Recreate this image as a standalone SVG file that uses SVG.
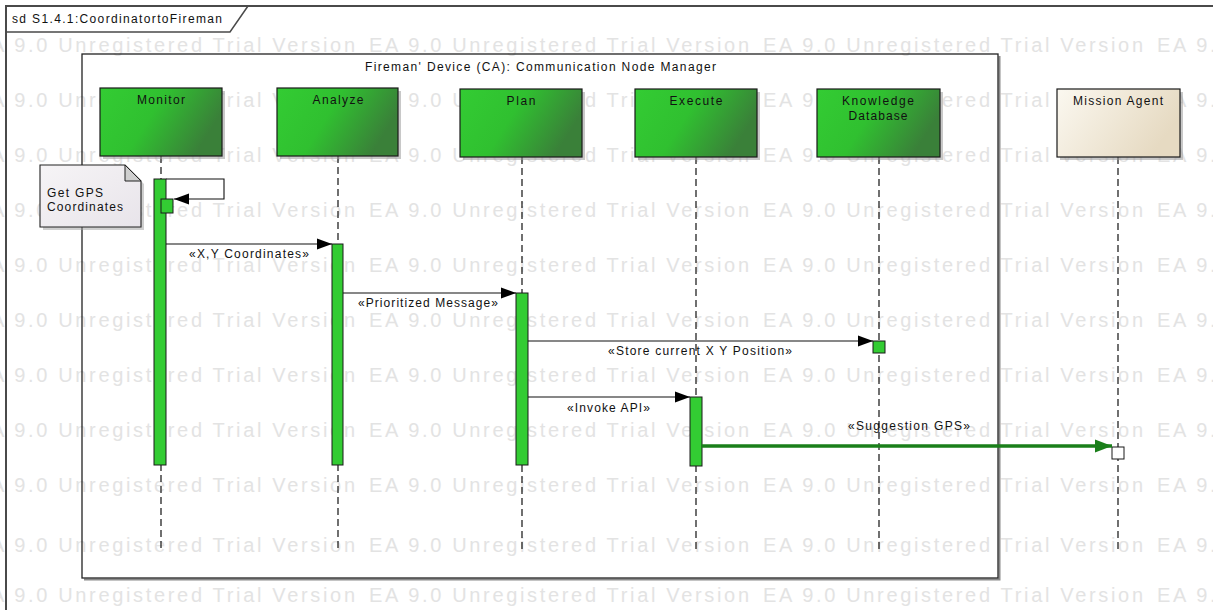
<svg xmlns="http://www.w3.org/2000/svg" width="1213" height="610" viewBox="0 0 1213 610">
<style>
.wm{font-family:"Liberation Sans Narrow","Liberation Sans",Arial,sans-serif;font-size:20px;fill:#e3e3e3}
.lbl{font-family:"Liberation Sans",Arial,sans-serif;font-size:12px;fill:#111}
.box{stroke:#1a1a1a;stroke-width:1.2}
.shadow{fill:#9a9a9a;opacity:0.55}
.life{stroke:#111;stroke-width:1.2;stroke-dasharray:7 4;fill:none}
.bar{fill:#33cc33;stroke:#1a1a1a;stroke-width:1}
.msg{stroke:#111;stroke-width:1.1;fill:none}
</style>
<defs>
<linearGradient id="gGreen" x1="0" y1="0" x2="1" y2="0.35">
<stop offset="0" stop-color="#33cc33"/>
<stop offset="0.5" stop-color="#30c030"/>
<stop offset="1" stop-color="#3a8039"/>
</linearGradient>
<linearGradient id="gBeige" x1="0" y1="0" x2="1" y2="0.4">
<stop offset="0" stop-color="#fbf8f0"/>
<stop offset="1" stop-color="#e6dac2"/>
</linearGradient>
<linearGradient id="gNote" x1="0" y1="0" x2="1" y2="1">
<stop offset="0" stop-color="#f6f4f6"/>
<stop offset="1" stop-color="#e8e4ea"/>
</linearGradient>
<marker id="arrBlack" markerUnits="userSpaceOnUse" markerWidth="16" markerHeight="12" refX="15" refY="6" orient="auto">
<path d="M0,0.5 L15,6 L0,11.5 z" fill="#000"/>
</marker>
<marker id="arrGreen" markerUnits="userSpaceOnUse" markerWidth="18" markerHeight="14" refX="17" refY="7" orient="auto">
<path d="M0,0.5 L17,7 L0,13.5 z" fill="#1a7f1a"/>
</marker>
<text id="wmt" class="wm" textLength="380" lengthAdjust="spacing">EA 9.0 Unregistered Trial Version</text>
</defs>

<rect width="1213" height="610" fill="#ffffff"/>

<g id="watermark">
<use href="#wmt" x="-25" y="52"/><use href="#wmt" x="369" y="52"/><use href="#wmt" x="763" y="52"/><use href="#wmt" x="1157" y="52"/>
<use href="#wmt" x="-25" y="107"/><use href="#wmt" x="369" y="107"/><use href="#wmt" x="763" y="107"/><use href="#wmt" x="1157" y="107"/>
<use href="#wmt" x="-25" y="162"/><use href="#wmt" x="369" y="162"/><use href="#wmt" x="763" y="162"/><use href="#wmt" x="1157" y="162"/>
<use href="#wmt" x="-25" y="217"/><use href="#wmt" x="369" y="217"/><use href="#wmt" x="763" y="217"/><use href="#wmt" x="1157" y="217"/>
<use href="#wmt" x="-25" y="272"/><use href="#wmt" x="369" y="272"/><use href="#wmt" x="763" y="272"/><use href="#wmt" x="1157" y="272"/>
<use href="#wmt" x="-25" y="327"/><use href="#wmt" x="369" y="327"/><use href="#wmt" x="763" y="327"/><use href="#wmt" x="1157" y="327"/>
<use href="#wmt" x="-25" y="382"/><use href="#wmt" x="369" y="382"/><use href="#wmt" x="763" y="382"/><use href="#wmt" x="1157" y="382"/>
<use href="#wmt" x="-25" y="437"/><use href="#wmt" x="369" y="437"/><use href="#wmt" x="763" y="437"/><use href="#wmt" x="1157" y="437"/>
<use href="#wmt" x="-25" y="492"/><use href="#wmt" x="369" y="492"/><use href="#wmt" x="763" y="492"/><use href="#wmt" x="1157" y="492"/>
<use href="#wmt" x="-25" y="552"/><use href="#wmt" x="369" y="552"/><use href="#wmt" x="763" y="552"/><use href="#wmt" x="1157" y="552"/>
<use href="#wmt" x="-25" y="602"/><use href="#wmt" x="369" y="602"/><use href="#wmt" x="763" y="602"/><use href="#wmt" x="1157" y="602"/>
</g>

<g id="frame">
<rect x="6" y="6" width="1220" height="620" fill="none" stroke="#4a4a4a" stroke-width="2"/>
<path d="M6,32 L230,32 L248,6" fill="none" stroke="#4a4a4a" stroke-width="1.5"/>
<text class="lbl" x="12" y="23" font-size="12.5" textLength="210">sd S1.4.1:CoordinatortoFireman</text>
</g>

<g id="fireman-device">
<path d="M84,579.5 L999.5,579.5 L999.5,56" fill="none" stroke="#8a8a8a" stroke-width="2"/>
<rect x="82" y="54" width="916" height="524" fill="none" stroke="#222" stroke-width="1.3"/>
<text class="lbl" x="365" y="71" textLength="351">Fireman' Device (CA): Communication Node Manager</text>
</g>

<g id="lifelines">
<line class="life" x1="161" y1="156" x2="161" y2="549"/>
<line class="life" x1="338" y1="156" x2="338" y2="549"/>
<line class="life" x1="522" y1="157" x2="522" y2="549"/>
<line class="life" x1="696" y1="157" x2="696" y2="549"/>
<line class="life" x1="879" y1="157" x2="879" y2="549"/>
<line class="life" x1="1118" y1="157" x2="1118" y2="549"/>
</g>

<g id="monitor">
<rect class="shadow" x="103" y="91" width="122" height="68"/>
<rect class="box" x="100" y="88" width="122" height="68" fill="url(#gGreen)"/>
<text class="lbl" x="161" y="104" text-anchor="middle" fill="#222" textLength="48">Monitor</text>
</g>
<g id="analyze">
<rect class="shadow" x="280" y="91" width="121" height="68"/>
<rect class="box" x="277" y="88" width="121" height="68" fill="url(#gGreen)"/>
<text class="lbl" x="338" y="104" text-anchor="middle" textLength="51">Analyze</text>
</g>
<g id="plan">
<rect class="shadow" x="463" y="92" width="122" height="68"/>
<rect class="box" x="460" y="89" width="122" height="68" fill="url(#gGreen)"/>
<text class="lbl" x="521" y="105" text-anchor="middle" textLength="29">Plan</text>
</g>
<g id="execute">
<rect class="shadow" x="638" y="92" width="122" height="68"/>
<rect class="box" x="635" y="89" width="122" height="68" fill="url(#gGreen)"/>
<text class="lbl" x="696" y="105" text-anchor="middle" textLength="53">Execute</text>
</g>
<g id="knowledge-database">
<rect class="shadow" x="820" y="92" width="123" height="68"/>
<rect class="box" x="817" y="89" width="123" height="68" fill="url(#gGreen)"/>
<text class="lbl" x="878" y="105" text-anchor="middle" textLength="72">Knowledge</text>
<text class="lbl" x="878" y="120" text-anchor="middle" textLength="59">Database</text>
</g>
<g id="mission-agent">
<rect class="shadow" x="1060" y="92" width="123" height="68"/>
<rect class="box" x="1057" y="89" width="123" height="68" fill="url(#gBeige)"/>
<text class="lbl" x="1118" y="105" text-anchor="middle" textLength="90">Mission Agent</text>
</g>

<g id="note-get-gps">
<path d="M43,168 L128,168 L144,184 L144,230 L43,230 z" fill="#a0a0a0" opacity="0.5"/>
<path d="M40,165 L125,165 L141,181 L141,227 L40,227 z" fill="url(#gNote)" stroke="#222" stroke-width="1.1"/>
<path d="M125,165 L125,181 L141,181 z" fill="#cfcfcf" stroke="#222" stroke-width="1"/>
<text class="lbl" x="47" y="197" textLength="56">Get GPS</text>
<text class="lbl" x="47" y="211" textLength="76">Coordinates</text>
</g>

<g id="activations">
<rect class="bar" x="154" y="179" width="12" height="286"/>
<rect class="bar" x="161" y="199" width="12" height="14"/>
<rect class="bar" x="332" y="244" width="11" height="221"/>
<rect class="bar" x="516" y="293" width="12" height="172"/>
<rect class="bar" x="690" y="397" width="12" height="69"/>
<rect class="bar" x="873" y="341" width="12" height="12"/>
<rect x="1112" y="447" width="12" height="12" fill="#fff" stroke="#1a1a1a" stroke-width="1"/>
</g>

<g id="connectors">
<polyline class="msg" points="166,179 224,179 224,199 174,199" marker-end="url(#arrBlack)"/>
<line class="msg" x1="166" y1="244" x2="332" y2="244" marker-end="url(#arrBlack)"/>
<text class="lbl" x="189" y="258" textLength="120">«X,Y Coordinates»</text>
<line class="msg" x1="343" y1="293" x2="516" y2="293" marker-end="url(#arrBlack)"/>
<text class="lbl" x="358" y="307" textLength="140">«Prioritized Message»</text>
<line class="msg" x1="528" y1="341" x2="873" y2="341" marker-end="url(#arrBlack)"/>
<text class="lbl" x="608" y="355" textLength="184">«Store current X Y Position»</text>
<line class="msg" x1="528" y1="397" x2="690" y2="397" marker-end="url(#arrBlack)"/>
<text class="lbl" x="567" y="412" textLength="83">«Invoke API»</text>
<line x1="702" y1="446" x2="1112" y2="446" stroke="#1a7f1a" stroke-width="3.5" marker-end="url(#arrGreen)"/>
<text class="lbl" x="848" y="430" textLength="122">«Suggestion GPS»</text>
</g>
</svg>
